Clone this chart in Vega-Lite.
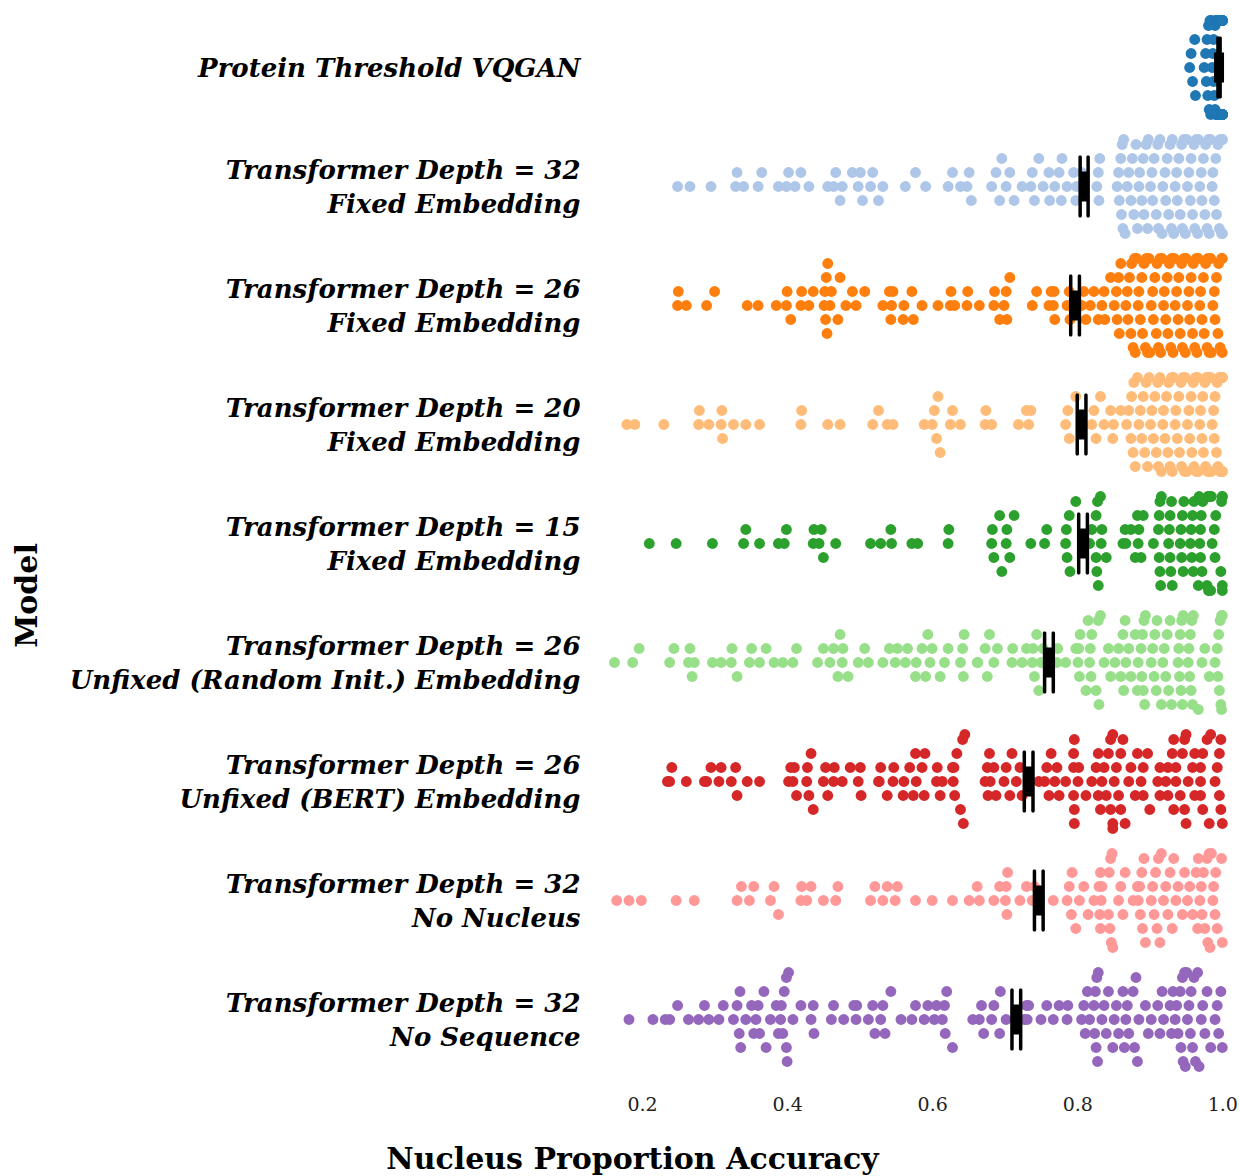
{
"$schema":"https://vega.github.io/schema/vega-lite/v6.json",
"width":631,"height":1071,
"autosize":{"type":"none"},
"padding":{"left":600,"top":8,"right":9,"bottom":97},
"background":"white",
"config":{"view":{"stroke":null},"font":"DejaVu Serif"},
"datasets":{
"models":[
{"g":1,"model":"Protein Threshold VQGAN"},
{"g":2,"model":"Transformer Depth = 32\nFixed Embedding"},
{"g":3,"model":"Transformer Depth = 26\nFixed Embedding"},
{"g":4,"model":"Transformer Depth = 20\nFixed Embedding"},
{"g":5,"model":"Transformer Depth = 15\nFixed Embedding"},
{"g":6,"model":"Transformer Depth = 26\nUnfixed (Random Init.) Embedding"},
{"g":7,"model":"Transformer Depth = 26\nUnfixed (BERT) Embedding"},
{"g":8,"model":"Transformer Depth = 32\nNo Nucleus"},
{"g":9,"model":"Transformer Depth = 32\nNo Sequence"}
],
"summary":[
{"g":1,"kind":"lo","acc":0.994},{"g":1,"kind":"hi","acc":0.997},{"g":1,"kind":"mean","acc":0.9955},
{"g":2,"kind":"lo","acc":0.804},{"g":2,"kind":"hi","acc":0.815},{"g":2,"kind":"mean","acc":0.8095},
{"g":3,"kind":"lo","acc":0.791},{"g":3,"kind":"hi","acc":0.803},{"g":3,"kind":"mean","acc":0.797},
{"g":4,"kind":"lo","acc":0.800},{"g":4,"kind":"hi","acc":0.812},{"g":4,"kind":"mean","acc":0.806},
{"g":5,"kind":"lo","acc":0.802},{"g":5,"kind":"hi","acc":0.814},{"g":5,"kind":"mean","acc":0.808},
{"g":6,"kind":"lo","acc":0.755},{"g":6,"kind":"hi","acc":0.767},{"g":6,"kind":"mean","acc":0.761},
{"g":7,"kind":"lo","acc":0.727},{"g":7,"kind":"hi","acc":0.739},{"g":7,"kind":"mean","acc":0.733},
{"g":8,"kind":"lo","acc":0.741},{"g":8,"kind":"hi","acc":0.753},{"g":8,"kind":"mean","acc":0.747},
{"g":9,"kind":"lo","acc":0.710},{"g":9,"kind":"hi","acc":0.722},{"g":9,"kind":"mean","acc":0.716}
],
"points":[
{"g":1,"acc":0.955},{"g":1,"acc":0.957},{"g":1,"acc":0.959},{"g":1,"acc":0.962},{"g":1,"acc":0.963},{"g":1,"acc":0.975},{"g":1,"acc":0.977},{"g":1,"acc":0.978},{"g":1,"acc":0.979},{"g":1,"acc":0.980},{"g":1,"acc":0.981},{"g":1,"acc":0.982},{"g":1,"acc":0.983},{"g":1,"acc":0.984},{"g":1,"acc":0.985},{"g":1,"acc":0.986},{"g":1,"acc":0.987},{"g":1,"acc":0.988},{"g":1,"acc":0.988},{"g":1,"acc":0.989},{"g":1,"acc":0.990},{"g":1,"acc":0.990},{"g":1,"acc":0.991},{"g":1,"acc":0.991},{"g":1,"acc":0.992},{"g":1,"acc":0.992},{"g":1,"acc":0.993},{"g":1,"acc":0.993},{"g":1,"acc":0.994},{"g":1,"acc":0.994},{"g":1,"acc":0.995},{"g":1,"acc":0.995},{"g":1,"acc":0.996},{"g":1,"acc":0.996},{"g":1,"acc":0.997},{"g":1,"acc":0.997},{"g":1,"acc":0.998},{"g":1,"acc":0.998},{"g":1,"acc":0.999},{"g":1,"acc":0.999},{"g":1,"acc":1.0},{"g":1,"acc":1.0},{"g":1,"acc":1.0},{"g":1,"acc":1.0},{"g":1,"acc":1.0},{"g":1,"acc":1.0},{"g":1,"acc":1.0},{"g":1,"acc":1.0},{"g":1,"acc":1.0},{"g":1,"acc":1.0},{"g":1,"acc":1.0},{"g":1,"acc":1.0},{"g":1,"acc":1.0},{"g":1,"acc":1.0},{"g":1,"acc":1.0},{"g":1,"acc":1.0},{"g":1,"acc":1.0},{"g":1,"acc":1.0},{"g":1,"acc":1.0},{"g":1,"acc":1.0},
{"g":2,"acc":0.249},{"g":2,"acc":0.266},{"g":2,"acc":0.295},{"g":2,"acc":0.329},{"g":2,"acc":0.340},{"g":2,"acc":0.331},{"g":2,"acc":0.360},{"g":2,"acc":0.365},{"g":2,"acc":0.388},{"g":2,"acc":0.399},{"g":2,"acc":0.411},{"g":2,"acc":0.402},{"g":2,"acc":0.419},{"g":2,"acc":0.430},{"g":2,"acc":0.456},{"g":2,"acc":0.464},{"g":2,"acc":0.473},{"g":2,"acc":0.467},{"g":2,"acc":0.476},{"g":2,"acc":0.490},{"g":2,"acc":0.498},{"g":2,"acc":0.504},{"g":2,"acc":0.501},{"g":2,"acc":0.515},{"g":2,"acc":0.518},{"g":2,"acc":0.526},{"g":2,"acc":0.532},{"g":2,"acc":0.563},{"g":2,"acc":0.577},{"g":2,"acc":0.591},{"g":2,"acc":0.622},{"g":2,"acc":0.628},{"g":2,"acc":0.639},{"g":2,"acc":0.648},{"g":2,"acc":0.651},{"g":2,"acc":0.654},{"g":2,"acc":0.682},{"g":2,"acc":0.688},{"g":2,"acc":0.693},{"g":2,"acc":0.696},{"g":2,"acc":0.702},{"g":2,"acc":0.707},{"g":2,"acc":0.713},{"g":2,"acc":0.724},{"g":2,"acc":0.736},{"g":2,"acc":0.741},{"g":2,"acc":0.738},{"g":2,"acc":0.747},{"g":2,"acc":0.753},{"g":2,"acc":0.761},{"g":2,"acc":0.762},{"g":2,"acc":0.769},{"g":2,"acc":0.775},{"g":2,"acc":0.778},{"g":2,"acc":0.779},{"g":2,"acc":0.786},{"g":2,"acc":0.795},{"g":2,"acc":0.798},{"g":2,"acc":0.799},{"g":2,"acc":0.806},
{"g":2,"acc":0.827},{"g":2,"acc":0.829},{"g":2,"acc":0.830},{"g":2,"acc":0.831},{"g":2,"acc":0.855},{"g":2,"acc":0.857},{"g":2,"acc":0.858},{"g":2,"acc":0.860},{"g":2,"acc":0.861},{"g":2,"acc":0.862},{"g":2,"acc":0.863},{"g":2,"acc":0.864},{"g":2,"acc":0.866},
{"g":2,"acc":0.869},{"g":2,"acc":0.871},{"g":2,"acc":0.874},{"g":2,"acc":0.876},{"g":2,"acc":0.878},{"g":2,"acc":0.881},{"g":2,"acc":0.883},{"g":2,"acc":0.885},{"g":2,"acc":0.886},{"g":2,"acc":0.889},{"g":2,"acc":0.891},{"g":2,"acc":0.892},{"g":2,"acc":0.895},{"g":2,"acc":0.897},{"g":2,"acc":0.898},{"g":2,"acc":0.901},{"g":2,"acc":0.903},{"g":2,"acc":0.904},{"g":2,"acc":0.906},{"g":2,"acc":0.909},{"g":2,"acc":0.911},{"g":2,"acc":0.912},{"g":2,"acc":0.914},{"g":2,"acc":0.917},{"g":2,"acc":0.918},{"g":2,"acc":0.921},{"g":2,"acc":0.922},{"g":2,"acc":0.924},{"g":2,"acc":0.926},{"g":2,"acc":0.928},{"g":2,"acc":0.930},{"g":2,"acc":0.931},{"g":2,"acc":0.933},{"g":2,"acc":0.935},{"g":2,"acc":0.937},{"g":2,"acc":0.938},{"g":2,"acc":0.940},{"g":2,"acc":0.942},{"g":2,"acc":0.944},{"g":2,"acc":0.945},{"g":2,"acc":0.947},{"g":2,"acc":0.949},{"g":2,"acc":0.951},{"g":2,"acc":0.952},{"g":2,"acc":0.954},{"g":2,"acc":0.956},{"g":2,"acc":0.957},{"g":2,"acc":0.959},{"g":2,"acc":0.961},{"g":2,"acc":0.962},{"g":2,"acc":0.964},{"g":2,"acc":0.966},{"g":2,"acc":0.967},{"g":2,"acc":0.969},{"g":2,"acc":0.971},{"g":2,"acc":0.972},{"g":2,"acc":0.974},{"g":2,"acc":0.976},{"g":2,"acc":0.977},{"g":2,"acc":0.979},{"g":2,"acc":0.981},{"g":2,"acc":0.982},{"g":2,"acc":0.984},{"g":2,"acc":0.986},{"g":2,"acc":0.987},{"g":2,"acc":0.989},{"g":2,"acc":0.991},{"g":2,"acc":0.992},{"g":2,"acc":0.994},{"g":2,"acc":0.996},{"g":2,"acc":0.997},{"g":2,"acc":0.999},{"g":2,"acc":1.0},{"g":2,"acc":1.0},{"g":2,"acc":1.0},{"g":2,"acc":1.0},
{"g":3,"acc":0.249},{"g":3,"acc":0.250},{"g":3,"acc":0.261},{"g":3,"acc":0.289},{"g":3,"acc":0.300},{"g":3,"acc":0.345},{"g":3,"acc":0.360},{"g":3,"acc":0.385},{"g":3,"acc":0.399},{"g":3,"acc":0.400},{"g":3,"acc":0.405},{"g":3,"acc":0.419},{"g":3,"acc":0.420},{"g":3,"acc":0.430},{"g":3,"acc":0.436},{"g":3,"acc":0.451},{"g":3,"acc":0.452},{"g":3,"acc":0.453},{"g":3,"acc":0.455},{"g":3,"acc":0.454},{"g":3,"acc":0.456},{"g":3,"acc":0.459},{"g":3,"acc":0.461},{"g":3,"acc":0.470},{"g":3,"acc":0.473},{"g":3,"acc":0.481},{"g":3,"acc":0.490},{"g":3,"acc":0.495},{"g":3,"acc":0.507},{"g":3,"acc":0.532},{"g":3,"acc":0.541},{"g":3,"acc":0.543},{"g":3,"acc":0.546},{"g":3,"acc":0.544},{"g":3,"acc":0.560},{"g":3,"acc":0.561},{"g":3,"acc":0.574},{"g":3,"acc":0.572},{"g":3,"acc":0.586},{"g":3,"acc":0.608},{"g":3,"acc":0.625},{"g":3,"acc":0.626},{"g":3,"acc":0.631},{"g":3,"acc":0.648},{"g":3,"acc":0.649},{"g":3,"acc":0.665},{"g":3,"acc":0.685},{"g":3,"acc":0.686},{"g":3,"acc":0.702},{"g":3,"acc":0.699},{"g":3,"acc":0.693},{"g":3,"acc":0.707},{"g":3,"acc":0.703},{"g":3,"acc":0.738},{"g":3,"acc":0.744},{"g":3,"acc":0.761},{"g":3,"acc":0.764},{"g":3,"acc":0.767},{"g":3,"acc":0.768},{"g":3,"acc":0.769},{"g":3,"acc":0.786},{"g":3,"acc":0.789},{"g":3,"acc":0.790},
{"g":3,"acc":0.806},{"g":3,"acc":0.809},{"g":3,"acc":0.812},{"g":3,"acc":0.818},{"g":3,"acc":0.823},{"g":3,"acc":0.829},{"g":3,"acc":0.834},{"g":3,"acc":0.837},{"g":3,"acc":0.838},{"g":3,"acc":0.846},{"g":3,"acc":0.851},{"g":3,"acc":0.854},{"g":3,"acc":0.857},{"g":3,"acc":0.855},{"g":3,"acc":0.858},{"g":3,"acc":0.860},
{"g":3,"acc":0.867},{"g":3,"acc":0.869},{"g":3,"acc":0.870},{"g":3,"acc":0.872},{"g":3,"acc":0.874},{"g":3,"acc":0.875},{"g":3,"acc":0.877},{"g":3,"acc":0.879},{"g":3,"acc":0.880},{"g":3,"acc":0.882},{"g":3,"acc":0.884},{"g":3,"acc":0.885},{"g":3,"acc":0.887},{"g":3,"acc":0.889},{"g":3,"acc":0.890},{"g":3,"acc":0.892},{"g":3,"acc":0.894},{"g":3,"acc":0.895},{"g":3,"acc":0.897},{"g":3,"acc":0.899},{"g":3,"acc":0.900},{"g":3,"acc":0.902},{"g":3,"acc":0.904},{"g":3,"acc":0.905},{"g":3,"acc":0.907},{"g":3,"acc":0.909},{"g":3,"acc":0.910},{"g":3,"acc":0.912},{"g":3,"acc":0.914},{"g":3,"acc":0.915},{"g":3,"acc":0.917},{"g":3,"acc":0.919},{"g":3,"acc":0.920},{"g":3,"acc":0.922},{"g":3,"acc":0.924},{"g":3,"acc":0.925},{"g":3,"acc":0.927},{"g":3,"acc":0.929},{"g":3,"acc":0.930},{"g":3,"acc":0.932},{"g":3,"acc":0.934},{"g":3,"acc":0.935},{"g":3,"acc":0.937},{"g":3,"acc":0.939},{"g":3,"acc":0.940},{"g":3,"acc":0.942},{"g":3,"acc":0.944},{"g":3,"acc":0.945},{"g":3,"acc":0.947},{"g":3,"acc":0.949},{"g":3,"acc":0.950},{"g":3,"acc":0.952},{"g":3,"acc":0.954},{"g":3,"acc":0.955},{"g":3,"acc":0.957},{"g":3,"acc":0.959},{"g":3,"acc":0.960},{"g":3,"acc":0.962},{"g":3,"acc":0.964},{"g":3,"acc":0.965},{"g":3,"acc":0.967},{"g":3,"acc":0.969},{"g":3,"acc":0.970},{"g":3,"acc":0.972},{"g":3,"acc":0.974},{"g":3,"acc":0.975},{"g":3,"acc":0.977},{"g":3,"acc":0.979},{"g":3,"acc":0.980},{"g":3,"acc":0.982},{"g":3,"acc":0.984},{"g":3,"acc":0.985},{"g":3,"acc":0.987},{"g":3,"acc":0.989},{"g":3,"acc":0.990},{"g":3,"acc":0.992},{"g":3,"acc":0.994},{"g":3,"acc":0.995},{"g":3,"acc":0.997},{"g":3,"acc":0.999},{"g":3,"acc":1.0},{"g":3,"acc":1.0},
{"g":4,"acc":0.179},{"g":4,"acc":0.190},{"g":4,"acc":0.230},{"g":4,"acc":0.278},{"g":4,"acc":0.279},{"g":4,"acc":0.292},{"g":4,"acc":0.309},{"g":4,"acc":0.310},{"g":4,"acc":0.311},{"g":4,"acc":0.326},{"g":4,"acc":0.343},{"g":4,"acc":0.362},{"g":4,"acc":0.419},{"g":4,"acc":0.420},{"g":4,"acc":0.456},{"g":4,"acc":0.473},{"g":4,"acc":0.518},{"g":4,"acc":0.526},{"g":4,"acc":0.538},{"g":4,"acc":0.546},{"g":4,"acc":0.589},{"g":4,"acc":0.600},{"g":4,"acc":0.606},{"g":4,"acc":0.611},{"g":4,"acc":0.603},{"g":4,"acc":0.608},{"g":4,"acc":0.625},{"g":4,"acc":0.628},{"g":4,"acc":0.639},{"g":4,"acc":0.673},{"g":4,"acc":0.674},{"g":4,"acc":0.682},{"g":4,"acc":0.719},{"g":4,"acc":0.730},{"g":4,"acc":0.736},{"g":4,"acc":0.733},{"g":4,"acc":0.784},{"g":4,"acc":0.787},{"g":4,"acc":0.789},{"g":4,"acc":0.798},
{"g":4,"acc":0.820},{"g":4,"acc":0.823},{"g":4,"acc":0.826},{"g":4,"acc":0.832},{"g":4,"acc":0.837},{"g":4,"acc":0.846},{"g":4,"acc":0.849},{"g":4,"acc":0.850},{"g":4,"acc":0.860},{"g":4,"acc":0.868},{"g":4,"acc":0.871},{"g":4,"acc":0.874},{"g":4,"acc":0.875},{"g":4,"acc":0.877},{"g":4,"acc":0.878},
{"g":4,"acc":0.880},{"g":4,"acc":0.883},{"g":4,"acc":0.885},{"g":4,"acc":0.887},{"g":4,"acc":0.889},{"g":4,"acc":0.891},{"g":4,"acc":0.893},{"g":4,"acc":0.895},{"g":4,"acc":0.897},{"g":4,"acc":0.899},{"g":4,"acc":0.901},{"g":4,"acc":0.903},{"g":4,"acc":0.905},{"g":4,"acc":0.907},{"g":4,"acc":0.909},{"g":4,"acc":0.911},{"g":4,"acc":0.912},{"g":4,"acc":0.914},{"g":4,"acc":0.916},{"g":4,"acc":0.918},{"g":4,"acc":0.919},{"g":4,"acc":0.921},{"g":4,"acc":0.923},{"g":4,"acc":0.925},{"g":4,"acc":0.926},{"g":4,"acc":0.928},{"g":4,"acc":0.930},{"g":4,"acc":0.931},{"g":4,"acc":0.933},{"g":4,"acc":0.935},{"g":4,"acc":0.936},{"g":4,"acc":0.938},{"g":4,"acc":0.940},{"g":4,"acc":0.941},{"g":4,"acc":0.943},{"g":4,"acc":0.944},{"g":4,"acc":0.946},{"g":4,"acc":0.948},{"g":4,"acc":0.949},{"g":4,"acc":0.951},{"g":4,"acc":0.952},{"g":4,"acc":0.954},{"g":4,"acc":0.955},{"g":4,"acc":0.957},{"g":4,"acc":0.958},{"g":4,"acc":0.960},{"g":4,"acc":0.961},{"g":4,"acc":0.963},{"g":4,"acc":0.964},{"g":4,"acc":0.966},{"g":4,"acc":0.967},{"g":4,"acc":0.969},{"g":4,"acc":0.970},{"g":4,"acc":0.972},{"g":4,"acc":0.973},{"g":4,"acc":0.974},{"g":4,"acc":0.976},{"g":4,"acc":0.977},{"g":4,"acc":0.978},{"g":4,"acc":0.980},{"g":4,"acc":0.981},{"g":4,"acc":0.982},{"g":4,"acc":0.984},{"g":4,"acc":0.985},{"g":4,"acc":0.986},{"g":4,"acc":0.988},{"g":4,"acc":0.989},{"g":4,"acc":0.990},{"g":4,"acc":0.992},{"g":4,"acc":0.993},{"g":4,"acc":0.994},{"g":4,"acc":0.996},{"g":4,"acc":0.997},{"g":4,"acc":0.998},{"g":4,"acc":1.0},{"g":4,"acc":1.0},{"g":4,"acc":1.0},{"g":4,"acc":1.0},{"g":4,"acc":1.0},{"g":4,"acc":1.0},
{"g":5,"acc":0.210},{"g":5,"acc":0.247},{"g":5,"acc":0.297},{"g":5,"acc":0.340},{"g":5,"acc":0.343},{"g":5,"acc":0.362},{"g":5,"acc":0.388},{"g":5,"acc":0.396},{"g":5,"acc":0.399},{"g":5,"acc":0.436},{"g":5,"acc":0.437},{"g":5,"acc":0.450},{"g":5,"acc":0.447},{"g":5,"acc":0.444},{"g":5,"acc":0.467},{"g":5,"acc":0.515},{"g":5,"acc":0.529},{"g":5,"acc":0.543},{"g":5,"acc":0.544},{"g":5,"acc":0.572},{"g":5,"acc":0.580},{"g":5,"acc":0.622},{"g":5,"acc":0.623},{"g":5,"acc":0.682},{"g":5,"acc":0.683},{"g":5,"acc":0.696},{"g":5,"acc":0.693},{"g":5,"acc":0.707},{"g":5,"acc":0.713},{"g":5,"acc":0.702},{"g":5,"acc":0.685},{"g":5,"acc":0.703},{"g":5,"acc":0.736},{"g":5,"acc":0.755},{"g":5,"acc":0.758},{"g":5,"acc":0.784},{"g":5,"acc":0.785},{"g":5,"acc":0.786},{"g":5,"acc":0.789},{"g":5,"acc":0.790},{"g":5,"acc":0.798},
{"g":5,"acc":0.820},{"g":5,"acc":0.826},{"g":5,"acc":0.832},{"g":5,"acc":0.829},{"g":5,"acc":0.826},{"g":5,"acc":0.840},{"g":5,"acc":0.833},{"g":5,"acc":0.834},{"g":5,"acc":0.827},{"g":5,"acc":0.828},{"g":5,"acc":0.817},{"g":5,"acc":0.866},{"g":5,"acc":0.863},{"g":5,"acc":0.867},{"g":5,"acc":0.874},{"g":5,"acc":0.880},{"g":5,"acc":0.883},{"g":5,"acc":0.885},{"g":5,"acc":0.884},{"g":5,"acc":0.888},{"g":5,"acc":0.891},{"g":5,"acc":0.905},
{"g":5,"acc":0.912},{"g":5,"acc":0.913},{"g":5,"acc":0.913},{"g":5,"acc":0.914},{"g":5,"acc":0.914},{"g":5,"acc":0.915},{"g":5,"acc":0.916},{"g":5,"acc":0.926},{"g":5,"acc":0.927},{"g":5,"acc":0.928},{"g":5,"acc":0.928},{"g":5,"acc":0.929},{"g":5,"acc":0.930},{"g":5,"acc":0.931},{"g":5,"acc":0.942},{"g":5,"acc":0.943},{"g":5,"acc":0.944},{"g":5,"acc":0.945},{"g":5,"acc":0.946},{"g":5,"acc":0.947},{"g":5,"acc":0.956},{"g":5,"acc":0.957},{"g":5,"acc":0.958},{"g":5,"acc":0.959},{"g":5,"acc":0.960},{"g":5,"acc":0.961},{"g":5,"acc":0.967},{"g":5,"acc":0.968},{"g":5,"acc":0.969},{"g":5,"acc":0.970},{"g":5,"acc":0.970},{"g":5,"acc":0.971},{"g":5,"acc":0.972},{"g":5,"acc":0.973},{"g":5,"acc":0.979},{"g":5,"acc":0.980},{"g":5,"acc":0.981},{"g":5,"acc":0.982},{"g":5,"acc":0.982},{"g":5,"acc":0.983},{"g":5,"acc":0.984},{"g":5,"acc":0.985},{"g":5,"acc":0.986},{"g":5,"acc":0.989},{"g":5,"acc":0.990},{"g":5,"acc":0.991},{"g":5,"acc":0.998},{"g":5,"acc":0.999},{"g":5,"acc":1.0},{"g":5,"acc":1.0},{"g":5,"acc":1.0},{"g":5,"acc":1.0},
{"g":6,"acc":0.162},{"g":6,"acc":0.187},{"g":6,"acc":0.196},{"g":6,"acc":0.238},{"g":6,"acc":0.244},{"g":6,"acc":0.264},{"g":6,"acc":0.266},{"g":6,"acc":0.269},{"g":6,"acc":0.272},{"g":6,"acc":0.297},{"g":6,"acc":0.309},{"g":6,"acc":0.323},{"g":6,"acc":0.324},{"g":6,"acc":0.331},{"g":6,"acc":0.348},{"g":6,"acc":0.351},{"g":6,"acc":0.362},{"g":6,"acc":0.371},{"g":6,"acc":0.382},{"g":6,"acc":0.394},{"g":6,"acc":0.408},{"g":6,"acc":0.413},{"g":6,"acc":0.442},{"g":6,"acc":0.450},{"g":6,"acc":0.459},{"g":6,"acc":0.464},{"g":6,"acc":0.470},{"g":6,"acc":0.473},{"g":6,"acc":0.476},{"g":6,"acc":0.477},{"g":6,"acc":0.484},{"g":6,"acc":0.498},{"g":6,"acc":0.507},{"g":6,"acc":0.512},{"g":6,"acc":0.532},{"g":6,"acc":0.541},{"g":6,"acc":0.549},{"g":6,"acc":0.552},{"g":6,"acc":0.563},{"g":6,"acc":0.566},{"g":6,"acc":0.577},{"g":6,"acc":0.578},{"g":6,"acc":0.586},{"g":6,"acc":0.591},{"g":6,"acc":0.594},{"g":6,"acc":0.597},{"g":6,"acc":0.600},{"g":6,"acc":0.611},{"g":6,"acc":0.617},{"g":6,"acc":0.622},{"g":6,"acc":0.639},{"g":6,"acc":0.642},{"g":6,"acc":0.643},{"g":6,"acc":0.644},{"g":6,"acc":0.662},{"g":6,"acc":0.663},{"g":6,"acc":0.673},{"g":6,"acc":0.676},{"g":6,"acc":0.679},{"g":6,"acc":0.685},{"g":6,"acc":0.690},{"g":6,"acc":0.710},{"g":6,"acc":0.711},{"g":6,"acc":0.724},{"g":6,"acc":0.730},{"g":6,"acc":0.738},{"g":6,"acc":0.739},{"g":6,"acc":0.741},{"g":6,"acc":0.744},{"g":6,"acc":0.747},{"g":6,"acc":0.750},{"g":6,"acc":0.753},
{"g":6,"acc":0.772},{"g":6,"acc":0.773},{"g":6,"acc":0.784},{"g":6,"acc":0.798},{"g":6,"acc":0.803},{"g":6,"acc":0.801},{"g":6,"acc":0.802},{"g":6,"acc":0.804},{"g":6,"acc":0.812},{"g":6,"acc":0.818},{"g":6,"acc":0.815},{"g":6,"acc":0.819},{"g":6,"acc":0.817},{"g":6,"acc":0.820},{"g":6,"acc":0.829},{"g":6,"acc":0.826},{"g":6,"acc":0.832},{"g":6,"acc":0.830},{"g":6,"acc":0.837},{"g":6,"acc":0.843},{"g":6,"acc":0.846},{"g":6,"acc":0.852},{"g":6,"acc":0.857},{"g":6,"acc":0.860},{"g":6,"acc":0.863},{"g":6,"acc":0.864},{"g":6,"acc":0.866},{"g":6,"acc":0.867},{"g":6,"acc":0.871},{"g":6,"acc":0.874},{"g":6,"acc":0.880},{"g":6,"acc":0.883},{"g":6,"acc":0.884},
{"g":6,"acc":0.888},{"g":6,"acc":0.889},{"g":6,"acc":0.890},{"g":6,"acc":0.891},{"g":6,"acc":0.892},{"g":6,"acc":0.893},{"g":6,"acc":0.894},{"g":6,"acc":0.902},{"g":6,"acc":0.904},{"g":6,"acc":0.906},{"g":6,"acc":0.907},{"g":6,"acc":0.909},{"g":6,"acc":0.910},{"g":6,"acc":0.916},{"g":6,"acc":0.918},{"g":6,"acc":0.920},{"g":6,"acc":0.922},{"g":6,"acc":0.924},{"g":6,"acc":0.926},{"g":6,"acc":0.928},{"g":6,"acc":0.930},{"g":6,"acc":0.939},{"g":6,"acc":0.940},{"g":6,"acc":0.941},{"g":6,"acc":0.942},{"g":6,"acc":0.943},{"g":6,"acc":0.944},{"g":6,"acc":0.945},{"g":6,"acc":0.946},{"g":6,"acc":0.953},{"g":6,"acc":0.954},{"g":6,"acc":0.955},{"g":6,"acc":0.956},{"g":6,"acc":0.957},{"g":6,"acc":0.958},{"g":6,"acc":0.959},{"g":6,"acc":0.960},{"g":6,"acc":0.967},{"g":6,"acc":0.972},{"g":6,"acc":0.976},{"g":6,"acc":0.982},{"g":6,"acc":0.990},{"g":6,"acc":0.993},{"g":6,"acc":0.994},{"g":6,"acc":0.995},{"g":6,"acc":0.996},{"g":6,"acc":0.997},{"g":6,"acc":0.998},{"g":6,"acc":0.999},{"g":6,"acc":0.999},{"g":6,"acc":1.0},
{"g":7,"acc":0.235},{"g":7,"acc":0.238},{"g":7,"acc":0.241},{"g":7,"acc":0.261},{"g":7,"acc":0.286},{"g":7,"acc":0.289},{"g":7,"acc":0.295},{"g":7,"acc":0.306},{"g":7,"acc":0.309},{"g":7,"acc":0.323},{"g":7,"acc":0.329},{"g":7,"acc":0.331},{"g":7,"acc":0.345},{"g":7,"acc":0.362},{"g":7,"acc":0.402},{"g":7,"acc":0.405},{"g":7,"acc":0.408},{"g":7,"acc":0.410},{"g":7,"acc":0.413},{"g":7,"acc":0.427},{"g":7,"acc":0.428},{"g":7,"acc":0.430},{"g":7,"acc":0.433},{"g":7,"acc":0.436},{"g":7,"acc":0.450},{"g":7,"acc":0.453},{"g":7,"acc":0.456},{"g":7,"acc":0.464},{"g":7,"acc":0.465},{"g":7,"acc":0.476},{"g":7,"acc":0.487},{"g":7,"acc":0.498},{"g":7,"acc":0.501},{"g":7,"acc":0.502},{"g":7,"acc":0.526},{"g":7,"acc":0.527},{"g":7,"acc":0.529},{"g":7,"acc":0.538},{"g":7,"acc":0.546},{"g":7,"acc":0.547},{"g":7,"acc":0.560},{"g":7,"acc":0.561},{"g":7,"acc":0.569},{"g":7,"acc":0.574},{"g":7,"acc":0.577},{"g":7,"acc":0.578},{"g":7,"acc":0.586},{"g":7,"acc":0.589},{"g":7,"acc":0.590},{"g":7,"acc":0.606},{"g":7,"acc":0.607},{"g":7,"acc":0.611},{"g":7,"acc":0.614},{"g":7,"acc":0.628},{"g":7,"acc":0.629},{"g":7,"acc":0.630},{"g":7,"acc":0.631},{"g":7,"acc":0.634},{"g":7,"acc":0.639},{"g":7,"acc":0.642},{"g":7,"acc":0.643},{"g":7,"acc":0.645},{"g":7,"acc":0.673},{"g":7,"acc":0.676},{"g":7,"acc":0.679},{"g":7,"acc":0.677},{"g":7,"acc":0.680},{"g":7,"acc":0.685},{"g":7,"acc":0.688},{"g":7,"acc":0.702},{"g":7,"acc":0.699},{"g":7,"acc":0.707},{"g":7,"acc":0.710},{"g":7,"acc":0.716},{"g":7,"acc":0.724},{"g":7,"acc":0.721},
{"g":7,"acc":0.747},{"g":7,"acc":0.755},{"g":7,"acc":0.758},{"g":7,"acc":0.764},{"g":7,"acc":0.761},{"g":7,"acc":0.769},{"g":7,"acc":0.772},{"g":7,"acc":0.775},{"g":7,"acc":0.784},{"g":7,"acc":0.795},{"g":7,"acc":0.795},{"g":7,"acc":0.795},{"g":7,"acc":0.796},{"g":7,"acc":0.796},{"g":7,"acc":0.796},{"g":7,"acc":0.801},{"g":7,"acc":0.802},{"g":7,"acc":0.812},
{"g":7,"acc":0.820},{"g":7,"acc":0.826},{"g":7,"acc":0.829},{"g":7,"acc":0.829},{"g":7,"acc":0.832},{"g":7,"acc":0.834},{"g":7,"acc":0.837},{"g":7,"acc":0.840},{"g":7,"acc":0.843},{"g":7,"acc":0.846},{"g":7,"acc":0.846},{"g":7,"acc":0.849},{"g":7,"acc":0.849},{"g":7,"acc":0.849},{"g":7,"acc":0.851},{"g":7,"acc":0.854},{"g":7,"acc":0.857},{"g":7,"acc":0.860},{"g":7,"acc":0.860},{"g":7,"acc":0.863},{"g":7,"acc":0.866},{"g":7,"acc":0.871},{"g":7,"acc":0.874},{"g":7,"acc":0.880},{"g":7,"acc":0.883},{"g":7,"acc":0.888},{"g":7,"acc":0.891},{"g":7,"acc":0.891},{"g":7,"acc":0.897},{"g":7,"acc":0.900},{"g":7,"acc":0.911},{"g":7,"acc":0.914},{"g":7,"acc":0.914},{"g":7,"acc":0.922},{"g":7,"acc":0.925},{"g":7,"acc":0.925},{"g":7,"acc":0.931},{"g":7,"acc":0.933},{"g":7,"acc":0.933},{"g":7,"acc":0.936},{"g":7,"acc":0.936},{"g":7,"acc":0.942},{"g":7,"acc":0.945},{"g":7,"acc":0.948},{"g":7,"acc":0.948},{"g":7,"acc":0.950},{"g":7,"acc":0.950},{"g":7,"acc":0.953},{"g":7,"acc":0.959},{"g":7,"acc":0.962},{"g":7,"acc":0.962},{"g":7,"acc":0.970},{"g":7,"acc":0.970},{"g":7,"acc":0.970},{"g":7,"acc":0.973},{"g":7,"acc":0.973},{"g":7,"acc":0.979},{"g":7,"acc":0.982},{"g":7,"acc":0.984},{"g":7,"acc":0.990},{"g":7,"acc":0.993},{"g":7,"acc":0.996},{"g":7,"acc":0.996},{"g":7,"acc":0.998},{"g":7,"acc":0.998},{"g":7,"acc":1.0},
{"g":8,"acc":0.165},{"g":8,"acc":0.182},{"g":8,"acc":0.199},{"g":8,"acc":0.247},{"g":8,"acc":0.272},{"g":8,"acc":0.331},{"g":8,"acc":0.337},{"g":8,"acc":0.348},{"g":8,"acc":0.354},{"g":8,"acc":0.377},{"g":8,"acc":0.382},{"g":8,"acc":0.388},{"g":8,"acc":0.419},{"g":8,"acc":0.420},{"g":8,"acc":0.427},{"g":8,"acc":0.433},{"g":8,"acc":0.450},{"g":8,"acc":0.467},{"g":8,"acc":0.470},{"g":8,"acc":0.515},{"g":8,"acc":0.521},{"g":8,"acc":0.532},{"g":8,"acc":0.538},{"g":8,"acc":0.549},{"g":8,"acc":0.552},{"g":8,"acc":0.577},{"g":8,"acc":0.600},{"g":8,"acc":0.628},{"g":8,"acc":0.651},{"g":8,"acc":0.662},{"g":8,"acc":0.665},{"g":8,"acc":0.685},{"g":8,"acc":0.693},{"g":8,"acc":0.702},{"g":8,"acc":0.703},{"g":8,"acc":0.701},{"g":8,"acc":0.704},{"g":8,"acc":0.721},{"g":8,"acc":0.730},{"g":8,"acc":0.738},{"g":8,"acc":0.741},
{"g":8,"acc":0.767},{"g":8,"acc":0.786},{"g":8,"acc":0.789},{"g":8,"acc":0.792},{"g":8,"acc":0.793},{"g":8,"acc":0.798},{"g":8,"acc":0.803},{"g":8,"acc":0.809},{"g":8,"acc":0.815},{"g":8,"acc":0.823},
{"g":8,"acc":0.830},{"g":8,"acc":0.831},{"g":8,"acc":0.832},{"g":8,"acc":0.832},{"g":8,"acc":0.833},{"g":8,"acc":0.834},{"g":8,"acc":0.843},{"g":8,"acc":0.844},{"g":8,"acc":0.845},{"g":8,"acc":0.846},{"g":8,"acc":0.847},{"g":8,"acc":0.848},{"g":8,"acc":0.849},{"g":8,"acc":0.857},{"g":8,"acc":0.860},{"g":8,"acc":0.863},{"g":8,"acc":0.866},{"g":8,"acc":0.877},{"g":8,"acc":0.883},{"g":8,"acc":0.884},{"g":8,"acc":0.886},{"g":8,"acc":0.887},{"g":8,"acc":0.889},{"g":8,"acc":0.890},{"g":8,"acc":0.892},{"g":8,"acc":0.894},{"g":8,"acc":0.902},{"g":8,"acc":0.904},{"g":8,"acc":0.906},{"g":8,"acc":0.908},{"g":8,"acc":0.910},{"g":8,"acc":0.912},{"g":8,"acc":0.914},{"g":8,"acc":0.916},{"g":8,"acc":0.919},{"g":8,"acc":0.922},{"g":8,"acc":0.925},{"g":8,"acc":0.928},{"g":8,"acc":0.931},{"g":8,"acc":0.933},{"g":8,"acc":0.936},{"g":8,"acc":0.939},{"g":8,"acc":0.945},{"g":8,"acc":0.948},{"g":8,"acc":0.952},{"g":8,"acc":0.955},{"g":8,"acc":0.959},{"g":8,"acc":0.964},{"g":8,"acc":0.966},{"g":8,"acc":0.967},{"g":8,"acc":0.969},{"g":8,"acc":0.971},{"g":8,"acc":0.972},{"g":8,"acc":0.974},{"g":8,"acc":0.976},{"g":8,"acc":0.979},{"g":8,"acc":0.980},{"g":8,"acc":0.982},{"g":8,"acc":0.983},{"g":8,"acc":0.985},{"g":8,"acc":0.987},{"g":8,"acc":0.988},{"g":8,"acc":0.990},{"g":8,"acc":0.991},{"g":8,"acc":0.993},{"g":8,"acc":0.999},{"g":8,"acc":1.0},
{"g":9,"acc":0.182},{"g":9,"acc":0.215},{"g":9,"acc":0.232},{"g":9,"acc":0.238},{"g":9,"acc":0.249},{"g":9,"acc":0.264},{"g":9,"acc":0.278},{"g":9,"acc":0.286},{"g":9,"acc":0.292},{"g":9,"acc":0.306},{"g":9,"acc":0.312},{"g":9,"acc":0.326},{"g":9,"acc":0.331},{"g":9,"acc":0.334},{"g":9,"acc":0.335},{"g":9,"acc":0.336},{"g":9,"acc":0.343},{"g":9,"acc":0.351},{"g":9,"acc":0.354},{"g":9,"acc":0.357},{"g":9,"acc":0.360},{"g":9,"acc":0.362},{"g":9,"acc":0.368},{"g":9,"acc":0.371},{"g":9,"acc":0.377},{"g":9,"acc":0.385},{"g":9,"acc":0.388},{"g":9,"acc":0.391},{"g":9,"acc":0.392},{"g":9,"acc":0.394},{"g":9,"acc":0.396},{"g":9,"acc":0.399},{"g":9,"acc":0.399},{"g":9,"acc":0.400},{"g":9,"acc":0.402},{"g":9,"acc":0.408},{"g":9,"acc":0.419},{"g":9,"acc":0.433},{"g":9,"acc":0.436},{"g":9,"acc":0.437},{"g":9,"acc":0.461},{"g":9,"acc":0.464},{"g":9,"acc":0.478},{"g":9,"acc":0.492},{"g":9,"acc":0.495},{"g":9,"acc":0.496},{"g":9,"acc":0.512},{"g":9,"acc":0.518},{"g":9,"acc":0.521},{"g":9,"acc":0.529},{"g":9,"acc":0.532},{"g":9,"acc":0.535},{"g":9,"acc":0.543},{"g":9,"acc":0.557},{"g":9,"acc":0.572},{"g":9,"acc":0.577},{"g":9,"acc":0.589},{"g":9,"acc":0.594},{"g":9,"acc":0.603},{"g":9,"acc":0.606},{"g":9,"acc":0.614},{"g":9,"acc":0.617},{"g":9,"acc":0.618},{"g":9,"acc":0.620},{"g":9,"acc":0.628},{"g":9,"acc":0.656},{"g":9,"acc":0.665},{"g":9,"acc":0.668},{"g":9,"acc":0.671},{"g":9,"acc":0.682},{"g":9,"acc":0.685},{"g":9,"acc":0.693},{"g":9,"acc":0.694},{"g":9,"acc":0.702},{"g":9,"acc":0.727},{"g":9,"acc":0.730},{"g":9,"acc":0.733},{"g":9,"acc":0.731},{"g":9,"acc":0.750},{"g":9,"acc":0.758},{"g":9,"acc":0.767},{"g":9,"acc":0.775},{"g":9,"acc":0.786},{"g":9,"acc":0.787},
{"g":9,"acc":0.806},{"g":9,"acc":0.809},{"g":9,"acc":0.811},{"g":9,"acc":0.814},{"g":9,"acc":0.817},{"g":9,"acc":0.823},{"g":9,"acc":0.824},{"g":9,"acc":0.825},{"g":9,"acc":0.826},{"g":9,"acc":0.827},{"g":9,"acc":0.828},{"g":9,"acc":0.829},{"g":9,"acc":0.834},{"g":9,"acc":0.837},{"g":9,"acc":0.840},{"g":9,"acc":0.843},{"g":9,"acc":0.849},{"g":9,"acc":0.851},{"g":9,"acc":0.854},{"g":9,"acc":0.857},{"g":9,"acc":0.863},{"g":9,"acc":0.865},{"g":9,"acc":0.867},{"g":9,"acc":0.869},{"g":9,"acc":0.871},{"g":9,"acc":0.877},{"g":9,"acc":0.879},{"g":9,"acc":0.881},{"g":9,"acc":0.883},{"g":9,"acc":0.885},{"g":9,"acc":0.894},{"g":9,"acc":0.898},{"g":9,"acc":0.902},{"g":9,"acc":0.911},{"g":9,"acc":0.914},{"g":9,"acc":0.917},{"g":9,"acc":0.919},{"g":9,"acc":0.928},{"g":9,"acc":0.930},{"g":9,"acc":0.932},{"g":9,"acc":0.935},{"g":9,"acc":0.937},{"g":9,"acc":0.939},{"g":9,"acc":0.942},{"g":9,"acc":0.943},{"g":9,"acc":0.945},{"g":9,"acc":0.946},{"g":9,"acc":0.948},{"g":9,"acc":0.949},{"g":9,"acc":0.951},{"g":9,"acc":0.952},{"g":9,"acc":0.954},{"g":9,"acc":0.956},{"g":9,"acc":0.957},{"g":9,"acc":0.959},{"g":9,"acc":0.961},{"g":9,"acc":0.963},{"g":9,"acc":0.966},{"g":9,"acc":0.968},{"g":9,"acc":0.971},{"g":9,"acc":0.973},{"g":9,"acc":0.976},{"g":9,"acc":0.979},{"g":9,"acc":0.984},{"g":9,"acc":0.990},{"g":9,"acc":0.993},{"g":9,"acc":0.995},{"g":9,"acc":0.998},{"g":9,"acc":1.0}
]
},
"encoding":{
"x":{"field":"acc","type":"quantitative","scale":{"domain":[0.142,1.012],"nice":false,"zero":false},
 "axis":{"values":[0.2,0.4,0.6,0.8,1.0],"format":".1f","grid":false,"domain":false,"ticks":false,"tickSize":0,"labelFont":"DejaVu Serif","labelFontSize":19,"labelColor":"#222222","labelPadding":16,
 "title":"Nucleus Proportion Accuracy","titleFont":"DejaVu Serif","titleFontSize":30,"titleFontWeight":"bold","titleColor":"black","titleX":32,"titleY":80,"titleAlign":"center","titleBaseline":"middle"}},
"y":{"field":"model","type":"nominal","scale":{"domain":["Protein Threshold VQGAN","Transformer Depth = 32\nFixed Embedding","Transformer Depth = 26\nFixed Embedding","Transformer Depth = 20\nFixed Embedding","Transformer Depth = 15\nFixed Embedding","Transformer Depth = 26\nUnfixed (Random Init.) Embedding","Transformer Depth = 26\nUnfixed (BERT) Embedding","Transformer Depth = 32\nNo Nucleus","Transformer Depth = 32\nNo Sequence"],"paddingInner":0,"paddingOuter":0},
 "axis":{"labelExpr":"split(datum.label, '\\n')","grid":false,"domain":false,"ticks":false,"tickSize":0,"labelFont":"DejaVu Serif","labelFontStyle":"italic","labelFontWeight":"bold","labelFontSize":26,"labelLineHeight":34,"labelColor":"black","labelPadding":20,"labelLimit":700,
 "labelOffset":{"condition":{"test":"datum.value == 'Protein Threshold VQGAN'","value":1},"value":-16},
 "title":"Model","titleFont":"DejaVu Serif","titleFontSize":30,"titleFontWeight":"bold","titleColor":"black","titleAngle":-90,"titleX":-573,"titleY":587,"titleAlign":"center","titleBaseline":"middle"}}
},
"layer":[
{"data":{"name":"points"},
 "transform":[
  {"lookup":"g","from":{"data":{"name":"models"},"key":"g","fields":["model"]}},
  {"bin":{"step":0.017},"field":"acc","as":"col"},
  {"window":[{"op":"row_number","as":"r"}],"groupby":["g","col"],"sort":[{"field":"acc","order":"ascending"}]},
  {"calculate":"clamp((datum.r % 2 == 0 ? -1 : 1) * floor(datum.r / 2) * 14, -47, 47)","as":"off"}
 ],
 "mark":{"type":"circle","size":118,"opacity":1},
 "encoding":{
  "yOffset":{"field":"off","type":"quantitative","scale":{"domain":[-59.5,59.5],"range":[0,119]}},
  "color":{"field":"g","type":"nominal","scale":{"domain":[1,2,3,4,5,6,7,8,9],"range":["#1f77b4","#aec7e8","#ff7f0e","#ffbb78","#2ca02c","#98df8a","#d62728","#ff9896","#9467bd"]},"legend":null}
 }},
{"data":{"name":"summary"},
 "transform":[{"lookup":"g","from":{"data":{"name":"models"},"key":"g","fields":["model"]}},{"filter":"datum.kind != 'mean'"}],
 "mark":{"type":"tick","color":"black","thickness":3.5,"size":62,"cornerRadius":1.5,"opacity":1}},
{"data":{"name":"summary"},
 "transform":[{"lookup":"g","from":{"data":{"name":"models"},"key":"g","fields":["model"]}},{"filter":"datum.kind == 'mean'"}],
 "mark":{"type":"tick","color":"black","thickness":10,"size":30,"opacity":1}}
]
}
